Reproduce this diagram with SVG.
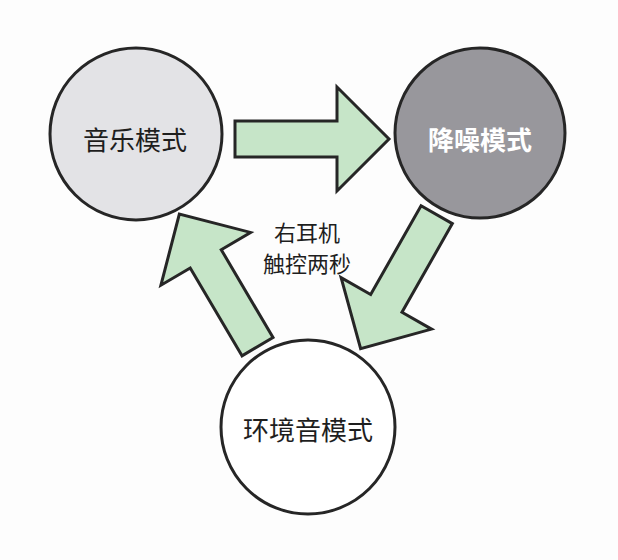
<svg xmlns="http://www.w3.org/2000/svg" width="618" height="560" viewBox="0 0 618 560">
  <defs>
    <style>
      .node { stroke: #262626; stroke-width: 3; }
      .arrow { fill: #c6e5c8; stroke: #262626; stroke-width: 3; stroke-linejoin: miter; }
      .lbl { font-family: "Noto Sans CJK SC", "Noto Sans", sans-serif; font-size: 26px; text-anchor: middle; dominant-baseline: central; fill: #1e1e1e; }
      .note { font-family: "Noto Sans CJK SC", "Noto Sans", sans-serif; font-size: 22px; text-anchor: middle; dominant-baseline: central; fill: #1e1e1e; }
    </style>
    <path id="arr" d="M0,-18 L102,-18 L102,-52 L154,0 L102,52 L102,18 L0,18 Z"/>
  </defs>
  <rect width="618" height="560" fill="#fdfdfd"/>

  <g id="connectors">
    <use href="#arr" class="arrow" transform="translate(235,139)"/>
    <use href="#arr" class="arrow" transform="translate(436.7,214.7) rotate(119.6)"/>
    <use href="#arr" class="arrow" transform="translate(257.5,346.7) rotate(-120.5)"/>
    <text class="note" x="307" y="231">右耳机</text>
    <text class="note" x="307" y="262">触控两秒</text>
  </g>

  <g id="music">
    <circle class="node" cx="136" cy="134" r="86" fill="#e3e3e6"/>
    <text class="lbl" x="135" y="138">音乐模式</text>
  </g>

  <g id="anc">
    <circle class="node" cx="480" cy="133" r="85" fill="#98979c"/>
    <text class="lbl" x="480" y="138" style="fill:#ffffff;font-weight:bold">降噪模式</text>
  </g>

  <g id="ambient">
    <circle class="node" cx="308" cy="427" r="87" fill="#ffffff"/>
    <text class="lbl" x="308" y="428">环境音模式</text>
  </g>
</svg>
